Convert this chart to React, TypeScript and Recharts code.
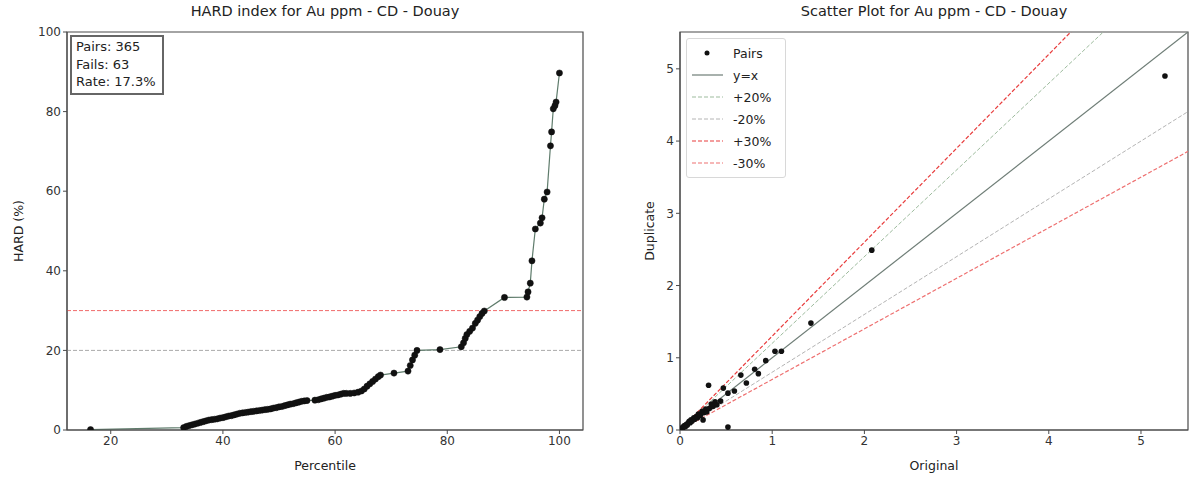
import React from "react";
import {
  ComposedChart, LineChart, Line, Scatter, XAxis, YAxis, ReferenceLine, ReferenceArea,
} from "recharts";

// HARD curve (percentile, HARD %)
const hardPercentile = [
  16.4, 33.0, 33.5, 34.0, 34.5, 35.0, 35.5, 36.0, 36.5, 37.0, 37.5, 38.0, 38.5, 39.0, 39.5,
  40.0, 40.5, 41.0, 41.5, 42.0, 42.5, 43.0, 43.5, 44.0, 44.5, 45.0, 45.5, 46.0, 46.5, 47.0,
  47.5, 48.0, 48.5, 49.0, 49.5, 50.0, 50.5, 51.0, 51.5, 52.0, 52.5, 53.0, 53.5, 54.0, 54.5,
  55.0, 56.4, 57.0, 57.5, 58.0, 58.5, 59.0, 59.5, 60.0, 60.5, 61.0, 61.5, 62.0, 62.7, 63.4,
  64.1, 64.7, 65.2, 65.7, 66.2, 66.7, 67.2, 67.7, 68.1, 70.5, 73.0, 73.4, 73.8, 74.2, 74.6,
  78.7, 82.5, 82.9, 83.2, 83.5, 84.0, 84.5, 85.0, 85.4, 85.8, 86.2, 86.6, 90.2, 94.2, 94.4,
  94.8, 95.1, 95.7, 96.6, 96.9, 97.3, 97.8, 98.4, 98.6, 98.9, 99.2, 99.4, 100.0,
];
const hardValue = [
  0.1, 0.6, 0.9, 1.1, 1.3, 1.5, 1.7, 1.9, 2.1, 2.3, 2.5, 2.6, 2.7, 2.8, 3.0,
  3.1, 3.3, 3.5, 3.6, 3.8, 4.0, 4.2, 4.3, 4.4, 4.5, 4.6, 4.7, 4.8, 4.9, 5.0,
  5.1, 5.2, 5.3, 5.5, 5.6, 5.8, 5.9, 6.1, 6.3, 6.5, 6.6, 6.8, 7.0, 7.2, 7.3,
  7.4, 7.5, 7.6, 7.8, 8.0, 8.2, 8.3, 8.5, 8.7, 8.8, 9.0, 9.2, 9.2, 9.2, 9.3,
  9.5, 9.8, 10.3, 11.0, 11.6, 12.2, 12.8, 13.4, 13.8, 14.3, 14.8, 16.2, 17.6, 18.8, 20.0,
  20.2, 20.9, 21.9, 23.0, 24.0, 24.8, 25.6, 26.8, 27.6, 28.5, 29.3, 29.9, 33.3, 33.4, 34.7,
  36.9, 42.5, 50.5, 52.0, 53.3, 58.0, 59.8, 71.4, 74.9, 80.7, 81.5, 82.4, 89.7,
];
const hardTicksX = [20, 40, 60, 80, 100];
const hardTicksY = [0, 20, 40, 60, 80, 100];

// Original vs duplicate pairs
const pairOriginal = [
  0.01, 0.02, 0.03, 0.04, 0.05, 0.06, 0.07, 0.08, 0.09, 0.10, 0.11, 0.12, 0.13, 0.15, 0.16,
  0.18, 0.19, 0.20, 0.22, 0.24, 0.25, 0.26, 0.28, 0.29, 0.31, 0.32, 0.34, 0.36, 0.38, 0.40,
  0.44, 0.47, 0.52, 0.52, 0.59, 0.66, 0.72, 0.81, 0.85, 0.93, 1.03, 1.10, 1.42, 2.08, 5.26,
];
const pairDuplicate = [
  0.01, 0.03, 0.02, 0.05, 0.06, 0.05, 0.08, 0.07, 0.10, 0.12, 0.10, 0.14, 0.12, 0.17, 0.15,
  0.19, 0.17, 0.22, 0.20, 0.26, 0.14, 0.24, 0.29, 0.25, 0.62, 0.30, 0.36, 0.33, 0.39, 0.35,
  0.40, 0.58, 0.51, 0.04, 0.54, 0.76, 0.65, 0.84, 0.78, 0.96, 1.09, 1.09, 1.48, 2.49, 4.90,
];
const scatterTicks = [0, 1, 2, 3, 4, 5];
const scatterMax = 5.51;

const guides = [
  { name: "y=x", k: 1.0, color: "#6e7d76", dash: undefined, width: 1.2 },
  { name: "+20%", k: 1.2, color: "#9dbb9d", dash: "4 2", width: 1 },
  { name: "-20%", k: 0.8, color: "#b4b4b4", dash: "4 2", width: 1 },
  { name: "+30%", k: 1.3, color: "#e83c3c", dash: "4 2", width: 1.2 },
  { name: "-30%", k: 0.7, color: "#ee7070", dash: "4 2", width: 1.2 },
];

const hardRows = hardPercentile.map((p, i) => ({ p, h: hardValue[i] }));
const pairRows = pairOriginal.map((x, i) => ({ x, y: pairDuplicate[i] }));

const FONT = "'DejaVu Sans', sans-serif";
const tick = { fontSize: 12, fill: "#333", fontFamily: FONT };
const frame = "#4a4a4a";

const abs = (s: React.CSSProperties): React.CSSProperties => ({ position: "absolute", fontFamily: FONT, color: "#222", ...s });

const Dot = (props: any) => <circle cx={props.cx} cy={props.cy} r={2.8} fill="#111" />;

function HardChart() {
  return (
    <LineChart width={600} height={477} data={hardRows} margin={{ top: 32, right: 17, bottom: 17, left: 27 }}>
      <XAxis dataKey="p" type="number" domain={[12.2, 104.2]} ticks={hardTicksX} allowDataOverflow
        tick={tick} tickSize={4} tickLine={{ stroke: frame }} axisLine={{ stroke: frame }} height={30} />
      <YAxis type="number" domain={[0, 100]} ticks={hardTicksY} allowDataOverflow
        tick={tick} tickSize={4} tickLine={{ stroke: frame }} axisLine={{ stroke: frame }} width={40} />
      <ReferenceLine y={20} stroke="#aaaaaa" strokeDasharray="4 2" />
      <ReferenceLine y={30} stroke="#f06a6a" strokeDasharray="4 2" />
      <Line dataKey="h" stroke="#5f7c6c" strokeWidth={1.2} isAnimationActive={false}
        dot={{ r: 3.1, fill: "#111", stroke: "#111", strokeWidth: 0.5 }} activeDot={false} />
      <ReferenceArea x1={12.2} x2={104.2} y1={0} y2={100} fill="none" stroke={frame} strokeWidth={1.2} />
    </LineChart>
  );
}

function ScatterChartBox() {
  return (
    <ComposedChart width={589} height={477} margin={{ top: 32, right: 1, bottom: 17, left: 40 }}>
      <XAxis dataKey="x" type="number" domain={[0, scatterMax]} ticks={scatterTicks} allowDataOverflow
        tick={tick} tickSize={4} tickLine={{ stroke: frame }} axisLine={{ stroke: frame }} height={30} />
      <YAxis dataKey="y" type="number" domain={[0, scatterMax]} ticks={scatterTicks} allowDataOverflow
        tick={tick} tickSize={4} tickLine={{ stroke: frame }} axisLine={{ stroke: frame }} width={40} />
      {guides.map((g) => (
        <Line key={g.name} data={[{ x: 0, y: 0 }, { x: scatterMax, y: g.k * scatterMax }]} dataKey="y"
          stroke={g.color} strokeWidth={g.width} strokeDasharray={g.dash} dot={false} activeDot={false}
          isAnimationActive={false} />
      ))}
      <Scatter data={pairRows} dataKey="y" shape={Dot} isAnimationActive={false} />
      <ReferenceArea x1={0} x2={scatterMax} y1={0} y2={scatterMax} fill="none" stroke={frame} strokeWidth={1.2} />
    </ComposedChart>
  );
}

function LegendBox() {
  return (
    <div style={abs({ left: 686, top: 38, width: 98, height: 138, border: "1px solid #d8d8d8", borderRadius: 3, background: "rgba(255,255,255,0.85)" })}>
      <div style={{ display: "flex", alignItems: "center", height: 22, marginTop: 3, fontSize: 12.5 }}>
        <svg width={46} height={10}><circle cx={20} cy={5} r={2.5} fill="#111" /></svg>
        <span>Pairs</span>
      </div>
      {guides.map((g) => (
        <div key={g.name} style={{ display: "flex", alignItems: "center", height: 22, fontSize: 12.5 }}>
          <svg width={46} height={10}>
            <line x1={5} x2={36} y1={5} y2={5} stroke={g.color} strokeWidth={g.width} strokeDasharray={g.dash} />
          </svg>
          <span>{g.name}</span>
        </div>
      ))}
    </div>
  );
}

export default function App() {
  return (
    <div style={{ position: "absolute", left: 0, top: 0, width: 1189, height: 477, background: "#fff", overflow: "hidden" }}>
      <div style={{ position: "absolute", left: 0, top: 0 }}><HardChart /></div>
      <div style={{ position: "absolute", left: 600, top: 0 }}><ScatterChartBox /></div>

      <div style={abs({ left: 67, width: 516, top: 3, textAlign: "center", fontSize: 14.5 })}>HARD index for Au ppm - CD - Douay</div>
      <div style={abs({ left: 680, width: 508, top: 3, textAlign: "center", fontSize: 14.5 })}>Scatter Plot for Au ppm - CD - Douay</div>
      <div style={abs({ left: 67, width: 516, top: 458, textAlign: "center", fontSize: 12.5 })}>Percentile</div>
      <div style={abs({ left: 680, width: 508, top: 458, textAlign: "center", fontSize: 12.5 })}>Original</div>
      <div style={abs({ left: 18, top: 231, fontSize: 12.5, transform: "translate(-50%, -50%) rotate(-90deg)", whiteSpace: "nowrap" })}>HARD (%)</div>
      <div style={abs({ left: 649, top: 231, fontSize: 12.5, transform: "translate(-50%, -50%) rotate(-90deg)", whiteSpace: "nowrap" })}>Duplicate</div>

      <div style={abs({ left: 70, top: 35, padding: "1px 6px 2px 4px", border: "2px solid #666", background: "#fff", fontSize: 13, lineHeight: "17.5px", whiteSpace: "nowrap" })}>
        <div>Pairs: 365</div>
        <div>Fails: 63</div>
        <div>Rate: 17.3%</div>
      </div>

      <LegendBox />
    </div>
  );
}
